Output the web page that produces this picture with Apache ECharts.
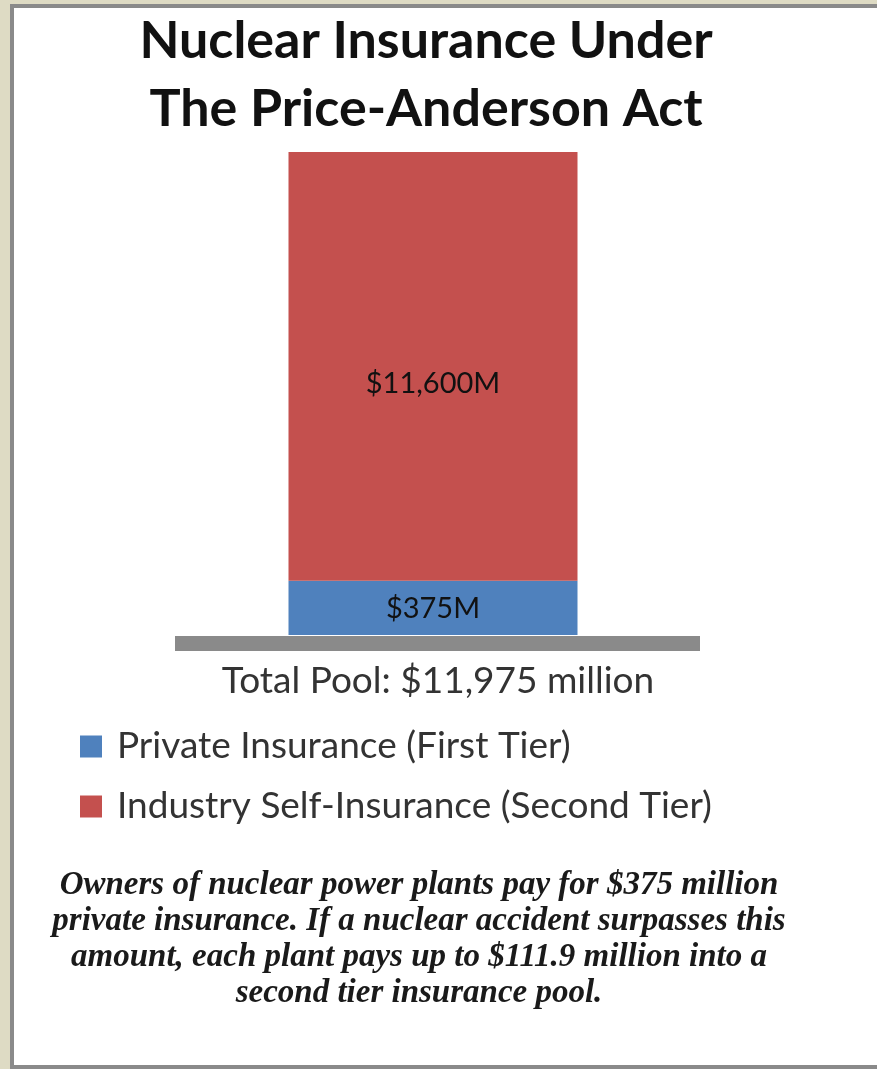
<!DOCTYPE html>
<html>
<head>
<meta charset="utf-8">
<script src="https://cdn.jsdelivr.net/npm/echarts@6/dist/echarts.min.js"></script>
<style>
  html, body { margin: 0; padding: 0; background: #fff; }
  #chart { width: 877px; height: 1069px; }
</style>
</head>
<body>
<div id="chart"></div>
<script>
const categories = ['Price-Anderson pool'];
const privateTier = [375];      // $M, first tier
const industryTier = [11600];   // $M, second tier
const seriesNames = ['Private Insurance (First Tier)', 'Industry Self-Insurance (Second Tier)'];
const totalPool = 11975;

const note = [
    'Owners of nuclear power plants pay for $375 million',
    'private insurance. If a nuclear accident surpasses this',
    'amount, each plant pays up to $111.9 million into a',
    'second tier insurance pool.'
];

const fmt = v => '$' + v.toLocaleString('en-US') + 'M';

let chart = echarts.init(document.getElementById('chart'));
let options = {
    backgroundColor: '#fff',
    animation: false,
    title: {
        text: 'Nuclear Insurance Under\nThe Price-Anderson Act',
        left: 421,
        textAlign: 'center',
        top: 2,
        textStyle: { fontFamily: 'Lato', fontWeight: 'bold', fontSize: 52, lineHeight: 68, color: '#111' }
    },
    legend: {
        orient: 'vertical',
        left: 75,
        top: 723,
        itemGap: 23,
        itemWidth: 22,
        itemHeight: 22,
        icon: 'rect',
        data: seriesNames,
        textStyle: { fontFamily: 'Lato', fontSize: 37, lineHeight: 30, color: '#333', padding: [0, 0, 0, 10] }
    },
    // grid 0 holds the bar, grid 1 only draws the grey base
    grid: [
        { left: 170, right: 181, top: 152, bottom: 434 },
        { left: 175, right: 177, top: 152, bottom: 434 }
    ],
    xAxis: [
        {
            type: 'category',
            gridIndex: 0,
            data: categories,
            axisLine: { show: false },
            axisTick: { show: false },
            axisLabel: { show: false }
        },
        {
            type: 'category',
            gridIndex: 1,
            data: categories,
            offset: 8,
            axisLine: { onZero: false, lineStyle: { color: '#8a8a8a', width: 15, cap: 'butt' } },
            axisTick: { show: false },
            axisLabel: { show: false }
        }
    ],
    yAxis: [
        { type: 'log', gridIndex: 0, min: 242, max: totalPool, show: false },
        { type: 'value', gridIndex: 1, show: false }
    ],
    series: [
        {
            name: seriesNames[0],
            type: 'bar',
            stack: 'pool',
            data: privateTier,
            barWidth: 289,
            clip: true,
            itemStyle: { color: '#4f81bd' },
            label: { show: true, position: 'inside', offset: [0, 1], formatter: p => fmt(p.value), fontFamily: 'Lato', fontSize: 29, color: '#111' }
        },
        {
            name: seriesNames[1],
            type: 'bar',
            stack: 'pool',
            data: industryTier,
            barWidth: 289,
            itemStyle: { color: '#c4504e' },
            label: { show: true, position: 'inside', offset: [0, 17], formatter: p => fmt(p.value), fontFamily: 'Lato', fontSize: 29, color: '#111' }
        }
    ],
    graphic: [
        { type: 'rect', z: -10, shape: { x: 0, y: 0, width: 877, height: 1069 }, style: { fill: '#dedbc4' } },
        { type: 'rect', z: -9, shape: { x: 12, y: 6, width: 880, height: 1061 }, style: { fill: '#fff', stroke: '#8a8a8a', lineWidth: 4 } },
        {
            type: 'text', x: 438, y: 681,
            style: {
                text: 'Total Pool: ' + fmt(totalPool).replace('M', '') + ' million', textAlign: 'center', textVerticalAlign: 'middle',
                fontFamily: 'Lato', fontSize: 37, fill: '#333'
            }
        },
        {
            type: 'text', x: 419, y: 867,
            style: {
                text: note.join('\n'), textAlign: 'center', fontFamily: 'Liberation Serif',
                fontStyle: 'italic', fontWeight: 'bold', fontSize: 33, lineHeight: 36, fill: '#1a1a1a'
            }
        }
    ]
};
chart.setOption(options);
</script>
</body>
</html>
